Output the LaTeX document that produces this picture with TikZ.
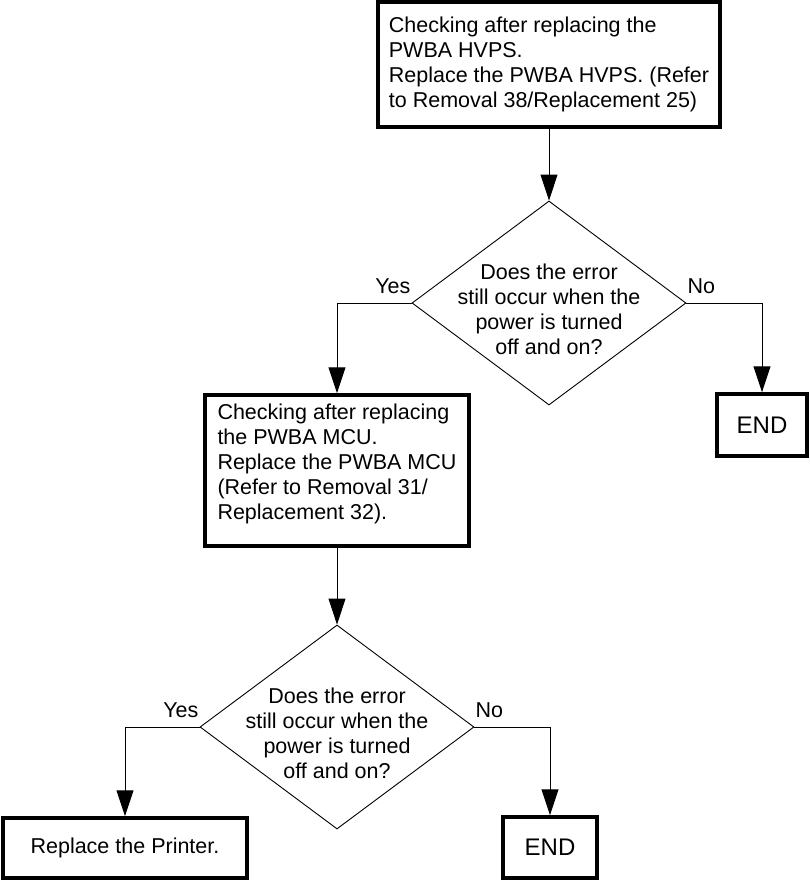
\documentclass[tikz,border=0pt]{standalone}
\usepackage{fontspec}
\setmainfont{Liberation Sans}
\usetikzlibrary{shapes.geometric,arrows.meta}
\begin{document}
\begin{tikzpicture}[x=1pt,y=-1pt,
  font=\fontsize{21.5pt}{25pt}\selectfont,
  stepbox/.style={draw,line width=3.5pt,inner sep=0pt},
  endbox/.style={draw,line width=3.5pt,inner sep=0pt,font=\fontsize{24pt}{28pt}\selectfont},
  decision/.style={draw,diamond,line width=0.9pt,inner sep=0pt,minimum width=274pt,minimum height=204pt},
  flow/.style={line width=1pt,-{Triangle[width=17pt,length=26pt]}},
  answer/.style={inner sep=1pt}]
\useasboundingbox (0,0) rectangle (809,881);

\node[stepbox,minimum width=342pt,minimum height=125pt] (hvps) at (549,64.5) {};
\node[align=left] (hvpstext) at (549,64) {Checking after replacing the\\PWBA HVPS.\\Replace the PWBA HVPS. (Refer\\to Removal 38/Replacement 25)};

\node[decision] (ask1) at (549,303) {};
\node[align=center] (ask1text) at (549,309) {Does the error\\still occur when the\\power is turned\\off and on?};

\node[stepbox,minimum width=264pt,minimum height=151pt] (mcu) at (337,470.5) {};
\node[align=left] (mcutext) at (337,463.5) {Checking after replacing\\the PWBA MCU.\\Replace the PWBA MCU\\(Refer to Removal 31/\\Replacement 32).};

\node[endbox,minimum width=90pt,minimum height=62pt] (end1) at (762,425) {END};

\node[decision] (ask2) at (337,727) {};
\node[align=center] (ask2text) at (337,733) {Does the error\\still occur when the\\power is turned\\off and on?};

\node[stepbox,minimum width=244pt,minimum height=60pt] (printer) at (125,848) {Replace the Printer.};
\node[endbox,minimum width=94pt,minimum height=61pt] (end2) at (550,847.5) {END};

\draw[flow] (hvps) -- (ask1);
\draw[flow] (ask1.west) -| (mcu.north);
\draw[flow] (ask1.east) -| (end1.north);
\draw[flow] (mcu) -- (ask2);
\draw[flow] (ask2.west) -| (printer.north);
\draw[flow] (ask2.east) -| (end2.north);

\node[answer,anchor=base east] (yes1) at ([yshift=10pt]ask1.west) {Yes};
\node[answer,anchor=base west] (no1) at ([yshift=10pt]ask1.east) {No};
\node[answer,anchor=base east] (yes2) at ([yshift=10pt]ask2.west) {Yes};
\node[answer,anchor=base west] (no2) at ([yshift=10pt]ask2.east) {No};
\end{tikzpicture}
\end{document}
